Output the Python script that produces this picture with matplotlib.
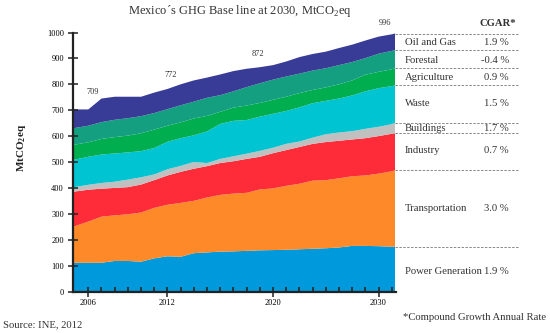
import numpy as np
import matplotlib
matplotlib.use("Agg")
import matplotlib.pyplot as plt

plt.rcParams['font.family'] = ['Liberation Serif', 'DejaVu Serif']
plt.rcParams['mathtext.fontset'] = 'custom'
plt.rcParams['mathtext.rm'] = 'Liberation Serif'

# x positions: one unit per tick on the original axis (2006 = 0)
x_pos = [-1.16, 0, 1, 2, 3, 4, 5, 6, 7, 8, 9, 10, 11, 12, 13, 14, 15, 16,
         17, 18, 19, 20, 21, 22, 23, 23.25]
year_ticks = [0, 6, 14, 22]
year_labels = ['2006', '2012', '2020', '2030']

sectors = ['Power Generation', 'Transportation', 'Industry', 'Buildings',
           'Waste', 'Agriculture', 'Forestal', 'Oil and Gas']
cgar = ['1.9 %', '3.0 %', '0.7 %', '1.7 %', '1.5 %', '0.9 %', '-0.4 %', '1.9 %']

power = [111, 111, 111, 118, 118, 115, 128, 136, 134, 148, 151, 154, 155,
         157, 159, 160, 161, 163, 165, 167, 170, 176, 176, 175, 173, 173]
transport = [139, 159, 178, 176, 180, 190, 195, 199, 208, 202, 212, 219, 223,
             224, 235, 238, 247, 253, 263, 263, 267, 269, 272, 280, 291, 295]
industry = [135, 123, 108, 106, 105, 108, 107, 113, 120, 124, 121, 123, 125,
            131, 126, 136, 138, 142, 142, 147, 145, 142, 144, 145, 145, 143]
buildings = [17, 19, 22, 24, 29, 28, 22, 24, 23, 26, 12, 16, 19,
             20, 23, 21, 24, 21, 24, 30, 32, 32, 36, 36, 37, 40]
waste = [106, 108, 110, 109, 105, 101, 102, 106, 107, 103, 122, 135, 137,
         130, 132, 131, 127, 132, 133, 129, 131, 138, 145, 149, 147, 145]
agriculture = [58, 56, 60, 63, 65, 69, 71, 62, 61, 65, 60, 47, 51,
               56, 53, 54, 55, 55, 51, 52, 55, 58, 64, 63, 65, 66]
forestal = [64, 64, 65, 67, 67, 66, 64, 64, 66, 65, 70, 64, 63,
            71, 76, 78, 78, 75, 75, 74, 74, 71, 64, 70, 71, 70]
oil_gas = [73, 63, 91, 89, 83, 75, 79, 78, 81, 82, 78, 80, 78,
           71, 62, 56, 58, 64, 64, 64, 66, 67, 68, 66, 64, 64]

totals_lbl = ['709', '772', '872', '996']
totals_pos = [(0.36, 770), (6.27, 836), (12.86, 917), (22.48, 1035)]

colors = ['#0099dc', '#fd8928', '#fe2b38', '#c0c0c0',
          '#00c4d2', '#00ad4f', '#139f80', '#393c97']

fig = plt.figure(figsize=(5.5, 3.33), dpi=100)
ax = fig.add_axes([0.1327, 0.1246, 0.5855, 0.7778])

series = [power, transport, industry, buildings, waste, agriculture, forestal, oil_gas]
ax.stackplot(x_pos, series, colors=colors, linewidth=0)

ax.set_xlim(x_pos[0], x_pos[-1])
ax.set_ylim(0, 1000)
for s in ['top', 'right']:
    ax.spines[s].set_visible(False)
for s in ['left', 'bottom']:
    ax.spines[s].set_linewidth(1.6)
    ax.spines[s].set_color('#222222')
    ax.spines[s].set_zorder(5)
ax.spines['bottom'].set_bounds(x_pos[0], x_pos[-1] + 0.1)

ax.set_yticks(range(0, 1001, 100))
ax.set_xticks(year_ticks)
ax.set_xticklabels(year_labels)
ax.set_xticks(range(0, 24), minor=True)
ax.tick_params(axis='y', direction='inout', length=7, width=1.1, labelsize=6,
               color='#222222', pad=3)
ax.tick_params(axis='x', which='major', direction='inout', length=7, width=1.1,
               labelsize=6, color='#222222', pad=2)
ax.tick_params(axis='x', which='minor', direction='in', length=3.5, width=1.1,
               color='#222222')

for lbl, (xx, yy) in zip(totals_lbl, totals_pos):
    ax.text(xx, yy, lbl, fontsize=6, ha='center', va='center', color='#333333',
            clip_on=False)

# legend column on the right
cum = np.cumsum([s[-1] for s in series])
line_x0 = 395 / 550
line_x1 = 518 / 550
for b in cum:
    yf = 0.1246 + 0.7778 * b / 1000
    fig.add_artist(plt.Line2D([line_x0, line_x1], [yf, yf], transform=fig.transFigure,
                              color='#888888', lw=0.7, ls=(0, (2.5, 1.5))))
label_y = [271.7, 208.3, 150, 128.3, 103.7, 77, 60.3, 42.7]
for name, rate, ypx in zip(sectors, cgar, label_y):
    yf = 1 - ypx / 333
    fig.text(405 / 550, yf, name, fontsize=7.7, ha='left', va='center', color='#333333')
    fig.text(509 / 550, yf, rate, fontsize=7.7, ha='right', va='center', color='#333333')
fig.text(516 / 550, 1 - 24 / 333, 'CGAR*', fontsize=7.7, ha='right', va='center',
         fontweight='bold', color='#333333')

fig.text(239.5 / 550, 1 - 11 / 333, 'Mexico´s GHG Base line at 2030, MtCO$_\\mathregular{2}$eq',
         fontsize=9, ha='center', va='center', color='#333333')
fig.text(22 / 550, 1 - 148 / 333, 'MtCO$_\\mathregular{2}$eq', fontsize=8, rotation=90,
         ha='center', va='center', fontweight='bold', color='#222222')
fig.text(403 / 550, 1 - 317 / 333, '*Compound Growth Annual Rate', fontsize=7.7,
         ha='left', va='center', color='#333333')
fig.text(3 / 550, 1 - 325 / 333, 'Source: INE, 2012', fontsize=7.7,
         ha='left', va='center', color='#333333')

fig.savefig('out.png', dpi=100)
